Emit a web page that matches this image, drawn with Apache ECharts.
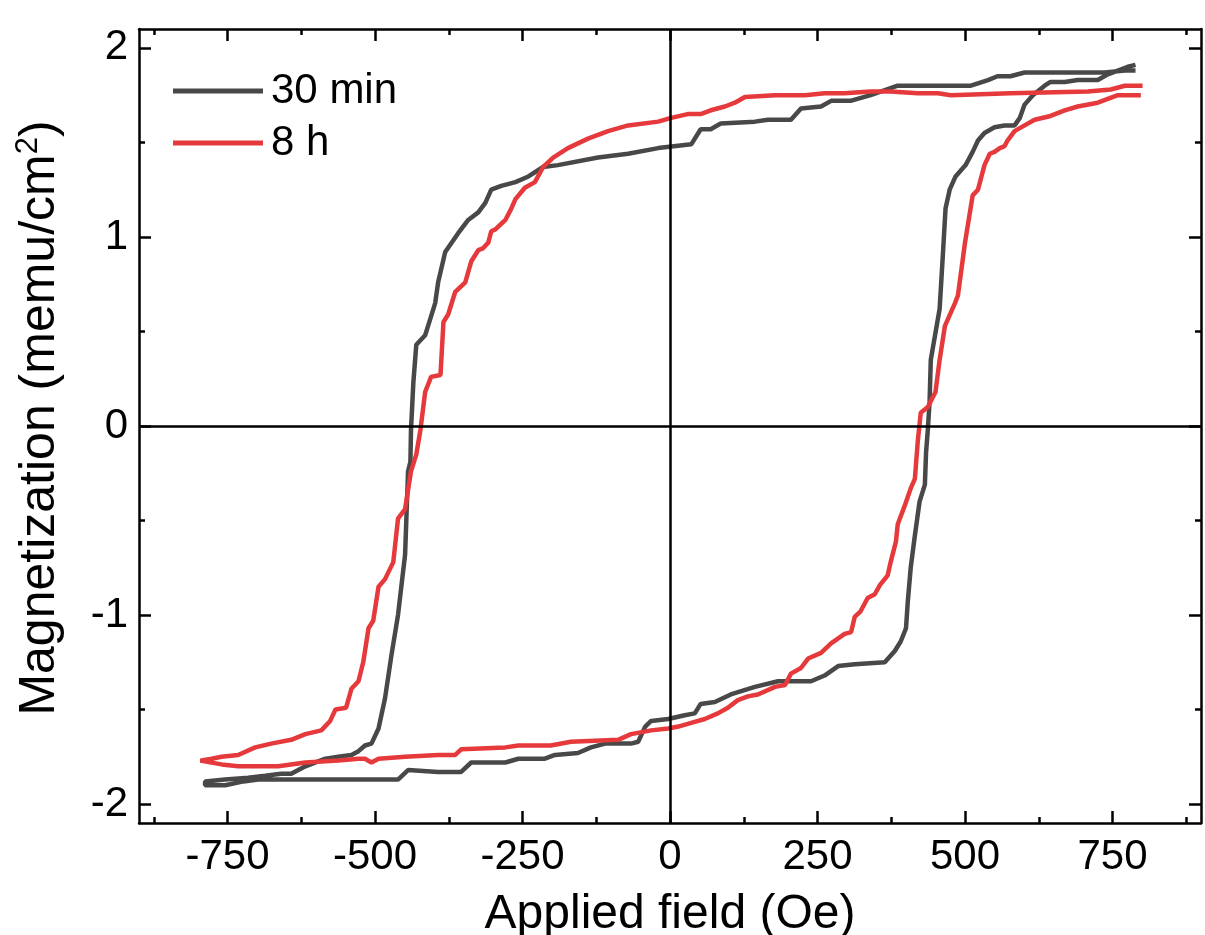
<!DOCTYPE html>
<html>
<head>
<meta charset="utf-8">
<script src="https://cdn.jsdelivr.net/npm/echarts@6/dist/echarts.min.js"></script>
<style>
  html, body { margin: 0; padding: 0; background: #fff; }
  #chart { width: 1205px; height: 935px; }
</style>
</head>
<body>
<div id="chart"></div>
<script>
// ---- data (Oe, memu/cm2) ----
const seriesNames = ['30 min', '8 h']

// 30 min, field sweeping down (upper branch)
const h30Down = [789, 771, 737, 679, 601, 577, 555, 539, 510, 386, 340, 306, 273, 256, 222, 205, 166, 144, 86, 69, 52, 36, -20, -71, -122, -190, -215, -240, -262, -286, -303, -313, -325, -342, -359, -381, -393, -398, -410, -415, -430, -435, -439, -440, -444, -449, -461, -472, -483, -494, -506, -517, -528, -540, -562, -584, -618, -642, -659, -686, -715, -754, -788]
const m30Down = [1.88, 1.88, 1.87, 1.87, 1.87, 1.85, 1.85, 1.83, 1.80, 1.80, 1.75, 1.72, 1.72, 1.69, 1.68, 1.62, 1.62, 1.61, 1.60, 1.57, 1.57, 1.49, 1.47, 1.44, 1.42, 1.38, 1.37, 1.32, 1.29, 1.27, 1.25, 1.18, 1.13, 1.09, 1.02, 0.92, 0.76, 0.65, 0.53, 0.48, 0.43, 0.23, -0.02, -0.19, -0.24, -0.68, -1.00, -1.21, -1.44, -1.60, -1.68, -1.69, -1.72, -1.74, -1.75, -1.76, -1.80, -1.84, -1.84, -1.85, -1.86, -1.87, -1.88]

// 30 min, field sweeping up (lower branch)
const h30Up = [-788, -754, -723, -698, -461, -444, -393, -354, -337, -279, -257, -212, -195, -156, -134, -110, -66, -54, -42, -32, -3, 25, 42, 52, 76, 103, 144, 183, 239, 262, 285, 313, 364, 381, 391, 400, 403, 408, 415, 423, 432, 434, 437, 440, 442, 457, 462, 467, 474, 484, 501, 513, 522, 533, 550, 567, 584, 593, 601, 615, 635, 645, 669, 691, 725, 742, 759, 776, 789]
const m30Up = [-1.90, -1.90, -1.88, -1.87, -1.87, -1.82, -1.83, -1.83, -1.78, -1.78, -1.76, -1.76, -1.74, -1.73, -1.70, -1.68, -1.68, -1.67, -1.59, -1.56, -1.55, -1.53, -1.52, -1.47, -1.46, -1.42, -1.38, -1.35, -1.35, -1.32, -1.27, -1.26, -1.25, -1.19, -1.14, -1.07, -0.93, -0.75, -0.58, -0.40, -0.31, -0.14, -0.02, 0.13, 0.35, 0.62, 0.88, 1.15, 1.25, 1.32, 1.38, 1.45, 1.51, 1.55, 1.58, 1.59, 1.59, 1.63, 1.70, 1.75, 1.80, 1.82, 1.82, 1.83, 1.83, 1.86, 1.88, 1.90, 1.91]

// 8 h, field sweeping down (upper branch)
const h8Down = [801, 771, 747, 708, 577, 476, 454, 420, 374, 340, 296, 262, 229, 178, 127, 110, 93, 69, 52, 30, 2, -20, -71, -105, -139, -173, -198, -215, -229, -246, -262, -269, -279, -296, -303, -308, -317, -325, -337, -347, -364, -376, -384, -389, -405, -415, -423, -430, -439, -449, -461, -469, -483, -494, -503, -511, -520, -528, -540, -549, -567, -576, -591, -618, -642, -676, -703, -732, -760, -777, -796]
const m8Down = [1.80, 1.80, 1.78, 1.77, 1.76, 1.75, 1.76, 1.76, 1.77, 1.77, 1.76, 1.76, 1.75, 1.75, 1.74, 1.71, 1.69, 1.67, 1.65, 1.65, 1.63, 1.61, 1.59, 1.56, 1.52, 1.47, 1.42, 1.37, 1.29, 1.26, 1.20, 1.15, 1.09, 1.04, 1.03, 0.97, 0.94, 0.93, 0.87, 0.76, 0.71, 0.59, 0.55, 0.27, 0.26, 0.18, -0.02, -0.15, -0.24, -0.44, -0.49, -0.72, -0.81, -0.85, -1.03, -1.07, -1.25, -1.35, -1.39, -1.49, -1.50, -1.56, -1.61, -1.63, -1.66, -1.68, -1.70, -1.74, -1.75, -1.76, -1.77]

// 8 h, field sweeping up (lower branch)
const h8Up = [-796, -760, -732, -664, -618, -562, -528, -517, -506, -494, -449, -393, -364, -354, -279, -257, -202, -168, -88, -66, -32, -3, 14, 36, 59, 81, 98, 115, 132, 149, 178, 195, 205, 222, 234, 256, 273, 296, 307, 313, 323, 335, 347, 356, 369, 374, 383, 386, 398, 408, 415, 420, 425, 437, 450, 457, 466, 483, 488, 500, 513, 522, 533, 542, 550, 559, 567, 572, 584, 601, 618, 645, 669, 691, 725, 742, 759, 781, 798]
const m8Up = [-1.78, -1.79, -1.80, -1.80, -1.78, -1.77, -1.76, -1.76, -1.78, -1.76, -1.75, -1.74, -1.74, -1.71, -1.70, -1.69, -1.69, -1.67, -1.66, -1.63, -1.61, -1.60, -1.59, -1.57, -1.55, -1.52, -1.49, -1.45, -1.43, -1.42, -1.38, -1.37, -1.31, -1.28, -1.23, -1.20, -1.15, -1.10, -1.09, -1.01, -0.98, -0.91, -0.89, -0.84, -0.79, -0.72, -0.61, -0.52, -0.42, -0.33, -0.28, -0.08, 0.07, 0.10, 0.18, 0.35, 0.53, 0.65, 0.69, 0.97, 1.22, 1.25, 1.38, 1.44, 1.45, 1.47, 1.48, 1.51, 1.56, 1.59, 1.62, 1.64, 1.67, 1.69, 1.71, 1.73, 1.75, 1.75, 1.75]

// axis ticks
const xMajorTicks = [-750, -500, -250, 0, 250, 500, 750]
const xMinorTicks = [-875, -625, -375, -125, 125, 375, 625, 875]
const yMajorTicks = [-2, -1, 0, 1, 2]
const yMinorTicks = [-1.5, -0.5, 0.5, 1.5]

// ---- helpers ----
const zip = (hs, ms) => hs.map((h, i) => [h, ms[i]])
const loop = (hDown, mDown, hUp, mUp) => zip(hDown, mDown).concat(zip(hUp, mUp))

const FONT = "'Liberation Sans', Arial, Helvetica, sans-serif"
const BLACK = '#000'
const GRAY = '#484848'
const RED = '#e5393c'

const xBase = { type: 'value', min: -900, max: 900, splitLine: { show: false }, gridIndex: 0 }
const yBase = { type: 'value', min: -2.1, max: 2.1, splitLine: { show: false }, gridIndex: 0 }

const tickAxis = (base, position, values, length, withLine) => Object.assign({}, base, {
  position: position,
  axisLine: { show: withLine, onZero: false, lineStyle: { color: BLACK, width: 2.5 } },
  axisTick: { show: true, inside: true, length: length, customValues: values, lineStyle: { color: BLACK, width: 2.5 } },
  axisLabel: { show: false },
  silent: true
})

const chart = echarts.init(document.getElementById('chart'), null, { renderer: 'canvas' })

const option = {
  animation: false,
  backgroundColor: '#fff',
  grid: { left: 139, right: 4, top: 29, bottom: 112, containLabel: false, outerBoundsMode: 'none' },
  legend: {
    data: [
      { name: seriesNames[0], itemStyle: { color: GRAY } },
      { name: seriesNames[1], itemStyle: { color: RED } }
    ],
    orient: 'vertical',
    left: 168,
    top: 65,
    icon: 'rect',
    itemWidth: 90,
    itemHeight: 5,
    itemGap: 10,
    textStyle: { fontSize: 42, color: BLACK, fontFamily: FONT, padding: [0, 0, 0, 3] }
  },
  xAxis: [
    Object.assign({}, xBase, {
      position: 'bottom',
      axisLine: { show: true, onZero: false, lineStyle: { color: BLACK, width: 2.5 } },
      axisTick: { show: true, inside: true, length: 12, customValues: xMajorTicks, lineStyle: { color: BLACK, width: 2.5 } },
      axisLabel: { show: true, customValues: xMajorTicks, margin: 13, fontSize: 42, color: BLACK, fontFamily: FONT },
      name: 'Applied field (Oe)',
      nameLocation: 'middle',
      nameGap: 68,
      nameTextStyle: { fontSize: 48, color: BLACK, fontFamily: FONT }
    }),
    tickAxis(xBase, 'bottom', xMinorTicks, 6, false),
    tickAxis(xBase, 'top', xMajorTicks, 12, true),
    tickAxis(xBase, 'top', xMinorTicks, 6, false)
  ],
  yAxis: [
    Object.assign({}, yBase, {
      position: 'left',
      axisLine: { show: true, onZero: false, lineStyle: { color: BLACK, width: 2.5 } },
      axisTick: { show: true, inside: true, length: 12, customValues: yMajorTicks, lineStyle: { color: BLACK, width: 2.5 } },
      axisLabel: { show: true, customValues: yMajorTicks, margin: 11, fontSize: 42, color: BLACK, fontFamily: FONT },
      name: 'Magnetization (memu/cm{sup|2})',
      nameLocation: 'middle',
      nameGap: 72,
      nameTextStyle: {
        fontSize: 50, color: BLACK, fontFamily: FONT,
        padding: [0, 0, 0, 16],
        rich: { sup: { fontSize: 31, color: BLACK, fontFamily: FONT, padding: [0, 0, 23, 0] } }
      }
    }),
    tickAxis(yBase, 'left', yMinorTicks, 6, false),
    tickAxis(yBase, 'right', yMajorTicks, 12, true),
    tickAxis(yBase, 'right', yMinorTicks, 6, false)
  ],
  series: [
    {
      name: seriesNames[0],
      type: 'line',
      xAxisIndex: 0,
      yAxisIndex: 0,
      data: loop(h30Down, m30Down, h30Up, m30Up),
      symbol: 'none',
      smooth: false,
      lineStyle: { color: GRAY, width: 4.5 },
      itemStyle: { color: GRAY },
      markLine: {
        silent: true,
        symbol: ['none', 'none'],
        label: { show: false },
        lineStyle: { color: BLACK, width: 2.5, type: 'solid' },
        data: [{ xAxis: 0 }, { yAxis: 0 }]
      },
      z: 3
    },
    {
      name: seriesNames[1],
      type: 'line',
      xAxisIndex: 0,
      yAxisIndex: 0,
      data: loop(h8Down, m8Down, h8Up, m8Up),
      symbol: 'none',
      smooth: false,
      lineStyle: { color: RED, width: 4.5 },
      itemStyle: { color: RED },
      z: 4
    }
  ]
}

chart.setOption(option)
</script>
</body>
</html>
